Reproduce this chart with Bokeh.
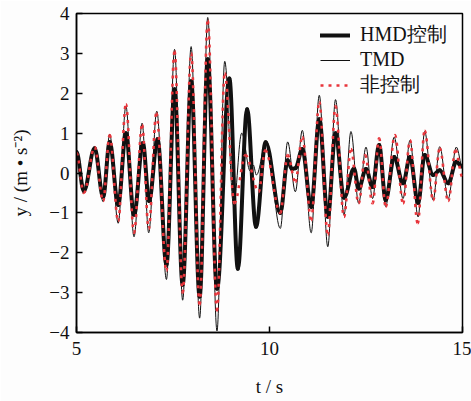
import numpy as np
from bokeh.plotting import figure
from bokeh.models import Range1d, FixedTicker, CustomJSTickFormatter
from bokeh.embed import file_html
from bokeh.resources import INLINE

# ---- data (turning points) ----
t_hmd = [5.0, 5.19, 5.47, 5.69, 5.86, 6.08, 6.28, 6.49, 6.72, 6.88, 7.10, 7.33, 7.54, 7.75,
         7.97, 8.19, 8.40, 8.64, 8.96, 9.18, 9.42, 9.65, 9.90, 10.28, 10.47, 10.58, 10.67,
         10.85, 11.08, 11.29, 11.51, 11.71, 11.93, 12.19, 12.31, 12.50, 12.67, 12.84, 13.01,
         13.23, 13.46, 13.64, 13.85, 14.02, 14.24, 14.41, 14.63, 14.84, 15.0]
a_hmd = [0.53, -0.45, 0.62, -0.6, 0.78, -0.8, 1.0, -1.05, 0.75, -0.7, 0.85, -2.3, 2.1, -2.8,
         2.3, -3.1, 2.85, -2.9, 2.37, -2.4, 1.6, -1.35, 0.77, -1.0, 0.32, 0.1, 0.12,
         0.6, -0.85, 1.35, -1.1, 1.0, -0.62, 0.11, -0.39, 0.1, -0.35, 0.7, -0.68,
         0.4, -0.26, 0.4, -0.75, 0.45, -0.05, 0.07, -0.26, 0.28, 0.15]

t_tmd = [5.0, 5.19, 5.47, 5.69, 5.86, 6.08, 6.28, 6.49, 6.70, 6.87, 7.08, 7.33, 7.54, 7.75,
         7.97, 8.19, 8.40, 8.64, 8.84, 9.07, 9.28, 9.50, 9.58, 9.66, 9.92, 10.28, 10.47,
         10.67, 10.85, 11.08, 11.29, 11.51, 11.71, 11.93, 12.11, 12.31, 12.50, 12.67, 12.84,
         13.01, 13.23, 13.46, 13.64, 13.85, 14.02, 14.24, 14.41, 14.63, 14.84, 15.0]
a_tmd = [0.53, -0.5, 0.65, -0.72, 0.97, -1.26, 1.68, -1.6, 1.25, -1.5, 1.55, -2.67, 3.1, -3.19,
         3.17, -3.64, 3.9, -3.96, 2.8, -0.8, 1.0, 0.05, 0.2, -0.05, 0.8, -1.39, 0.78,
         -0.47, 1.07, -1.5, 1.95, -1.85, 1.84, -1.05, 1.04, -0.76, 0.65, -0.64, 0.72,
         -0.84, 0.9, -0.64, 0.82, -1.1, 1.04, -0.68, 0.66, -0.64, 0.65, 0.15]

t_unc = [5.0, 5.19, 5.47, 5.69, 5.86, 6.08, 6.28, 6.49, 6.70, 6.87, 7.07, 7.33, 7.54, 7.75,
         7.97, 8.19, 8.40, 8.64, 8.84, 9.09, 9.38, 9.72, 9.89, 10.28, 10.47, 10.67, 10.85,
         11.08, 11.29, 11.51, 11.71, 11.93, 12.11, 12.31, 12.48, 12.67, 12.84, 13.01, 13.25,
         13.46, 13.64, 13.84, 14.02, 14.24, 14.41, 14.63, 14.82, 15.0]
a_unc = [0.5, -0.5, 0.65, -0.7, 0.95, -1.2, 1.72, -1.5, 1.2, -1.4, 1.5, -2.45, 3.05, -3.0,
         3.0, -3.3, 3.82, -3.45, 2.5, -0.76, 0.45, -0.47, 0.57, -1.0, 0.45, -0.22, 0.9,
         -1.18, 1.78, -1.55, 1.68, -1.1, 0.6, -0.76, 0.45, -0.76, 0.87, -0.84, 0.95,
         -0.76, 0.82, -1.26, 1.06, -0.68, 0.62, -0.7, 0.57, -0.1]

series_names = ["HMD控制", "TMD", "非控制"]
x_ticks = [5, 10, 15]
y_ticks = [-4, -3, -2, -1, 0, 1, 2, 3, 4]
x_title = "t / s"
y_title = "y / (m \u2022 s\u207b\u00b2)"

# ---- layout ----
W, H = 471, 401
L, R, T, B = 76, 9, 13, 69
SERIF = "Liberation Serif"
BG = "#fdfdfd"
INK = "#111111"

p = figure(width=W, height=H, x_range=Range1d(5, 15), y_range=Range1d(-4, 4),
           output_backend="svg", toolbar_location=None,
           min_border_left=L, min_border_right=R, min_border_top=T, min_border_bottom=B,
           background_fill_color=BG, border_fill_color=BG)
p.grid.visible = False
p.outline_line_color = "black"
p.outline_line_width = 1.5
p.outline_line_alpha = 1.0

for ax in (p.xaxis, p.yaxis):
    ax.axis_line_width = 1.5
    ax.axis_line_color = "black"
    ax.major_tick_in = 6
    ax.major_tick_out = 0
    ax.minor_tick_line_color = None
    ax.major_tick_line_width = 1.5
    ax.major_label_text_font = SERIF
    ax.major_label_text_font_size = "19px"
    ax.major_label_text_color = INK
    ax.axis_label_text_font = SERIF
    ax.axis_label_text_font_size = "19px"
    ax.axis_label_text_font_style = "normal"
    ax.axis_label_text_color = INK
p.xaxis.ticker = FixedTicker(ticks=x_ticks)
p.yaxis.ticker = FixedTicker(ticks=y_ticks)
p.xaxis.major_label_standoff = 9
p.yaxis.major_label_standoff = 7
p.xaxis.axis_label = x_title
p.yaxis.axis_label = y_title
p.xaxis.axis_label_standoff = 18
p.yaxis.axis_label_standoff = 15
fmt = CustomJSTickFormatter(code="return tick < 0 ? '\u2212' + (-tick) : '' + tick;")
p.xaxis.formatter = fmt
p.yaxis.formatter = fmt


def bez(t, a, k=0.36):
    t = np.asarray(t, float)
    a = np.asarray(a, float)
    x0, x1 = t[:-1], t[1:]
    y0, y1 = a[:-1], a[1:]
    d = x1 - x0
    return dict(x0=x0, y0=y0, x1=x1, y1=y1, cx0=x0 + k * d, cy0=y0, cx1=x1 - k * d, cy1=y1)


p.bezier(**bez(t_hmd, a_hmd), line_color=INK, line_width=4.0,
         line_join="round", line_cap="round", legend_label=series_names[0])
p.bezier(**bez(t_tmd, a_tmd), line_color=INK, line_width=1.0,
         legend_label=series_names[1])
p.bezier(**bez(t_unc, a_unc), line_color="#e8353b", line_width=2.6,
         line_dash="3 5", legend_label=series_names[2])

lg = p.legend[0]
lg.location = (244, 234)
lg.background_fill_alpha = 0
lg.border_line_alpha = 0
lg.padding = 0
lg.margin = 0
lg.spacing = -3
lg.glyph_width = 30
lg.glyph_height = 22
lg.label_height = 22
lg.label_standoff = 10
lg.label_text_font = SERIF
lg.label_text_font_size = "20px"
lg.label_text_color = INK

open("out.html", "w").write(file_html(p, INLINE))
